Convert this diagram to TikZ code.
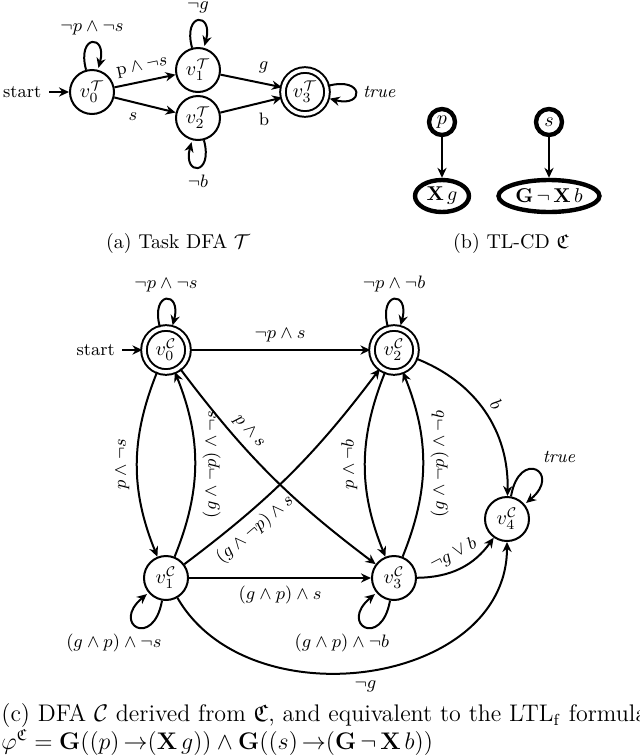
\documentclass[tikz,border=0pt]{standalone}
\usepackage{amsmath,amssymb}
\usepackage{tikz}
\usetikzlibrary{arrows.meta,automata,shapes.geometric}
\newcommand{\pxu}{0.5pt}
\tikzset{
  dstate/.style ={state,line width=1pt,minimum size=22pt,inner sep=0pt},
  dacc/.style   ={dstate,accepting,double distance=1.8pt},
  tlprop/.style ={circle,draw,line width=2.2pt,minimum size=13pt,inner sep=0pt},
  tlform/.style ={ellipse,draw,line width=2.2pt,minimum height=16pt,inner sep=1pt},
  darr/.style   ={->,line width=1pt},
  elab/.style   ={font=\small},
  uplab/.style  ={rotate=90,anchor=south},
  capt/.style   ={inner sep=0pt},
}
\begin{document}
\begin{tikzpicture}[x=\pxu,y=-\pxu,>={Stealth[length=5pt,width=4.6pt]},
    initial text=start,initial distance=10pt,
    every initial by arrow/.style={font=\small,line width=1pt},
    every edge/.style={draw,line width=1pt},auto]
  \useasboundingbox (0,0) rectangle (640,756);
  % (a) task DFA
  \node[dstate,initial] (T0) at (92,92)  {$v_0^{\mathcal{T}}$};
  \node[dstate]         (T1) at (198,70) {$v_1^{\mathcal{T}}$};
  \node[dstate]         (T2) at (198,118){$v_2^{\mathcal{T}}$};
  \node[dacc]           (T3) at (305,92) {$v_3^{\mathcal{T}}$};
  \path[darr,nodes=elab]
    (T0) edge node[sloped] {$\mathrm{p}\wedge\neg s$} (T1)
    (T0) edge node[swap] {$s$} (T2)
    (T1) edge node {$g$} (T3)
    (T2) edge node[swap] {b} (T3)
    (T0) edge[loop above] node {$\neg p\wedge\neg s$} ()
    (T1) edge[loop above] node {$\neg g$} ()
    (T2) edge[loop below] node {$\neg b$} ()
    (T3) edge[loop right] node {$\mathit{true}$} ();
  \node[capt] (capA) at (178,243) {(a) Task DFA $\mathcal{T}$};
  % (b) TL-CD
  \node[tlprop] (P) at (442,122) {$p$};
  \node[tlform,minimum width=27pt] (XG) at (442,196) {$\mathbf{X}\,g$};
  \node[tlprop] (S) at (549,122) {$s$};
  \node[tlform,minimum width=48pt] (GXB) at (549,196) {$\mathbf{G}\,\neg\,\mathbf{X}\,b$};
  \draw[darr] (P) -- (XG);
  \draw[darr] (S) -- (GXB);
  \node[capt] (capB) at (511,243) {(b) TL-CD $\mathfrak{C}$};
  % (c) derived DFA
  \node[dacc,initial] (C0) at (166,350) {$v_0^{\mathcal{C}}$};
  \node[dstate]       (C1) at (166,578) {$v_1^{\mathcal{C}}$};
  \node[dacc]         (C2) at (394,350) {$v_2^{\mathcal{C}}$};
  \node[dstate]       (C3) at (394,578) {$v_3^{\mathcal{C}}$};
  \node[dstate]       (C4) at (507,519) {$v_4^{\mathcal{C}}$};
  \path[darr,nodes=elab]
    (C0) edge node {$\neg p\wedge s$} (C2)
    (C0) edge[bend right=22] node[uplab] {$p\wedge\neg s$} (C1)
    (C1) edge[bend right=22] node[sloped,swap] {$(g\wedge\neg p)\wedge\neg s$} (C0)
    (C0) edge[bend right=8] node[sloped,pos=.32] {$p\wedge s$} (C3)
    (C1) edge[bend right=8] node[sloped,swap,pos=.26] {$(g\wedge\neg p)\wedge s$} (C2)
    (C1) edge node[swap] {$(g\wedge p)\wedge s$} (C3)
    (C2) edge[bend right=22] node[uplab] {$p\wedge\neg b$} (C3)
    (C3) edge[bend right=22] node[sloped,swap] {$(g\wedge\neg p)\wedge\neg b$} (C2)
    (C2) edge[bend left=35] node[sloped] {$b$} (C4)
    (C3) edge[bend right=27] node[sloped] {$\neg g\vee b$} (C4)
    (C1) edge[out=-60,in=-90,looseness=1.1] node[swap,pos=.45] {$\neg g$} (C4)
    (C0) edge[loop above] node {$\neg p\wedge\neg s$} ()
    (C2) edge[loop above] node {$\neg p\wedge\neg b$} ()
    (C1) edge[out=-100,in=-140,loop] node[below,xshift=-12pt] {$(g\wedge p)\wedge\neg s$} ()
    (C3) edge[out=-100,in=-140,loop] node[below,xshift=-12pt] {$(g\wedge p)\wedge\neg b$} ()
    (C4) edge[out=80,in=40,loop] node[above right] {$\mathit{true}$} ();
  \node[anchor=north west,align=left,inner sep=0pt,font=\large] (capC) at (1,703)
    {(c) DFA $\mathcal{C}$ derived from $\mathfrak{C}$, and equivalent to the LTL$_\mathrm{f}$ formula\\
     $\varphi^{\mathfrak{C}}=\mathbf{G}((p)\,{\rightarrow}(\mathbf{X}\,g))\wedge\mathbf{G}((s)\,{\rightarrow}(\mathbf{G}\,\neg\,\mathbf{X}\,b))$};
\end{tikzpicture}
\end{document}
